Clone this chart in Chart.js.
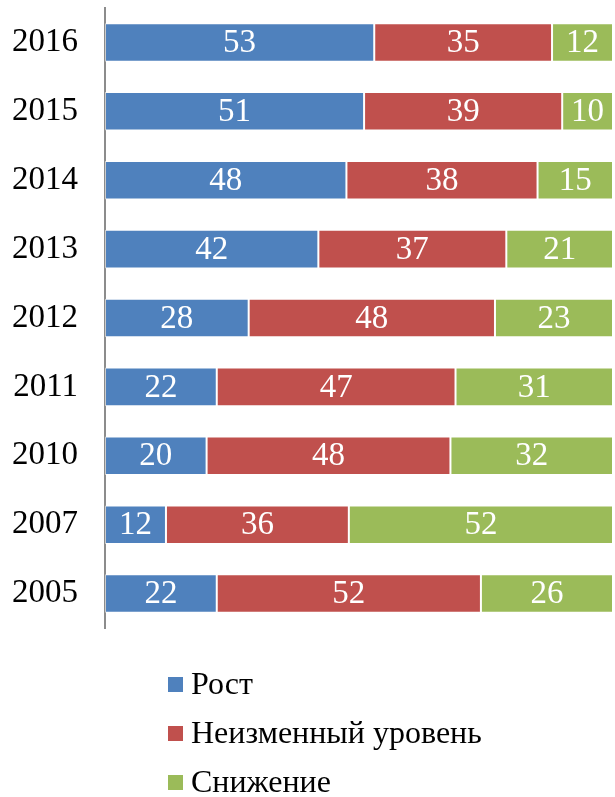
<!DOCTYPE html>
<html>
<head>
<meta charset="utf-8">
<script src="https://cdn.jsdelivr.net/npm/chart.js@4"></script>
<style>
  html, body { margin: 0; padding: 0; background: #fff; }
  #wrap { width: 615px; height: 797px; }
</style>
</head>
<body>
<div id="wrap"><canvas id="barChart"></canvas></div>
<script>
const years = ['2016', '2015', '2014', '2013', '2012', '2011', '2010', '2007', '2005'];
const growth = [53, 51, 48, 42, 28, 22, 20, 12, 22];
const unchanged = [35, 39, 38, 37, 48, 47, 48, 36, 52];
const decline = [12, 10, 15, 21, 23, 31, 32, 52, 26];
const seriesNames = ['Рост', 'Неизменный уровень', 'Снижение'];
const colors = ['#4F81BD', '#C0504D', '#9BBB59'];

const FONT = "'Liberation Serif', 'Times New Roman', serif";
const raw = [growth, unchanged, decline];
// 100% stacked: each row is scaled to its own total
const totals = years.map((y, i) => growth[i] + unchanged[i] + decline[i]);

// legend drawn as a vertical list under the plot
const listLegend = {
  id: 'listLegend',
  afterDraw(chart) {
    const ctx = chart.ctx;
    ctx.save();
    ctx.font = '32px ' + FONT;
    ctx.textBaseline = 'middle';
    chart.data.datasets.forEach((ds, i) => {
      const y = 685 + i * 49;
      ctx.fillStyle = ds.backgroundColor;
      ctx.fillRect(168, y - 8, 15, 15);
      ctx.fillStyle = '#000';
      ctx.fillText(ds.label, 191, y + 1);
    });
    ctx.restore();
  }
};

// values written in the middle of each segment
const segmentLabels = {
  id: 'segmentLabels',
  afterDatasetsDraw(chart) {
    const ctx = chart.ctx;
    ctx.save();
    ctx.font = '33px ' + FONT;
    ctx.fillStyle = '#fff';
    ctx.textAlign = 'center';
    ctx.textBaseline = 'middle';
    chart.data.datasets.forEach((ds, di) => {
      chart.getDatasetMeta(di).data.forEach((bar, i) => {
        const p = bar.getProps(['x', 'y', 'base'], true);
        ctx.fillText(raw[di][i], (p.x + p.base) / 2, p.y + 1);
      });
    });
    ctx.restore();
  }
};

const ctx = document.getElementById('barChart').getContext('2d');
new Chart(ctx, {
  type: 'bar',
  data: {
    labels: years,
    datasets: raw.map((vals, di) => ({
      label: seriesNames[di],
      data: vals.map((v, i) => v / totals[i] * 100),
      backgroundColor: colors[di],
      borderColor: 'rgba(255,255,255,0.55)',
      borderWidth: 1,
      borderSkipped: false,
      barPercentage: 0.56,
      categoryPercentage: 1
    }))
  },
  options: {
    indexAxis: 'y',
    responsive: true,
    maintainAspectRatio: false,
    animation: false,
    layout: { padding: { top: 8, right: 2, bottom: 169, left: 0 } },
    plugins: {
      legend: { display: false },
      tooltip: { enabled: false }
    },
    scales: {
      x: {
        stacked: true,
        min: 0,
        max: 100,
        display: false
      },
      y: {
        stacked: true,
        grid: { display: false },
        border: { display: true, color: '#8c8c8c', width: 2 },
        ticks: {
          color: '#000',
          padding: 19,
          font: { family: FONT, size: 33 }
        },
        afterFit(scale) {
          scale.width = 105;
          scale.paddingTop = 0;
          scale.paddingBottom = 0;
        }
      }
    }
  },
  plugins: [segmentLabels, listLegend]
});
</script>
</body>
</html>
